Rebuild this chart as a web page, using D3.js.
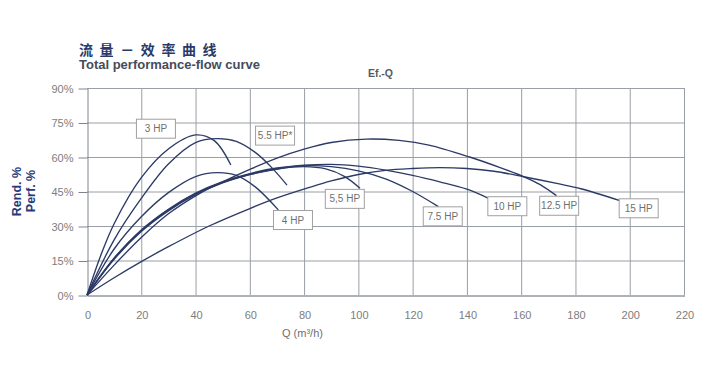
<!DOCTYPE html>
<html><head><meta charset="utf-8">
<script src="https://cdn.jsdelivr.net/npm/d3@7/dist/d3.min.js"></script>
<style>body{margin:0;background:#fff}</style>
</head><body><svg id="c" width="705" height="386"></svg>
<script>
// ---- data ----
const qTicks = [0,20,40,60,80,100,120,140,160,180,200,220];
const effTicks = [0,15,30,45,60,75,90];
const seriesNames = ["3 HP","5.5 HP*","4 HP","5,5 HP","7.5 HP","10 HP","12.5 HP","15 HP"];
const hp3   = [[0,0],[5,17],[10,31],[20,51],[30,63.5],[40,69.6],[47,67],[53,56.5]];
const hp55s = [[0,0],[10,24],[20,42],[30,57],[40,66.3],[48,68],[55,66.8],[62,62],[68,55.5],[73.7,47.8]];
const hp4   = [[0,0],[10,20],[20,34],[30,44.5],[40,51.5],[48,53.2],[55,52],[62,47],[70.5,37]];
const hp55  = [[0,0],[10,16],[20,28],[30,37],[40,44],[50,49],[60,52.5],[70,54.8],[80,55.8],[88,54.8],[95,51.5],[100.6,46.4]];
const hp75  = [[0,0],[10,16],[20,28.3],[30,37.3],[40,44.3],[50,49.3],[60,52.8],[70,55.2],[80,56.2],[90,55.8],[100,54],[110,50.5],[120,45],[129.5,38.4]];
const hp10  = [[0,0],[10,15.5],[20,27.6],[30,36.6],[40,43.6],[50,48.7],[60,52.3],[70,54.8],[80,56.4],[90,56.8],[100,56],[110,54.3],[120,52],[130,49.2],[140,46],[148,42]];
const hp125 = [[0,0],[10,13],[20,25],[30,35.3],[41.6,44.2],[50,49.2],[60,54.6],[70,59.5],[80,63.4],[90,66.3],[103,67.8],[115,67.2],[126,65.2],[141,60],[152,55.5],[161,51.4],[167,48],[173,43.2]];
const hp15  = [[0,0],[10,7.5],[20,14.5],[30,21],[45,30],[60,37.6],[70,42.2],[82,46.8],[90,49.6],[100,52.4],[110,54.2],[120,55],[130,55.4],[140,55],[150,53.8],[161,51.4],[167,50],[174,48.3],[182,46.2],[196.4,41]];
const seriesData = [hp3,hp55s,hp4,hp55,hp75,hp10,hp125,hp15];
// label box centres in data units (Q, efficiency %)
const labelQ = [25.4,69.3,75.9,95,131.1,154.9,174,203.3];
const labelE = [72.3,69.3,32.6,41.8,34.2,38.6,38.8,37.7];

// ---- drawing ----
const svg = d3.select("#c");
const x = d3.scaleLinear().domain([0,220]).range([87,684]);
const y = d3.scaleLinear().domain([0,90]).range([295,88]);
const gridC = "#9a9ea6", navy = "#2c3a66", tickC = "#7d7d7d";

// grid
svg.append("g").selectAll("line").data(qTicks.slice(1)).join("line")
  .attr("x1",d=>x(d)+0.5).attr("x2",d=>x(d)+0.5).attr("y1",y(0)).attr("y2",y(90))
  .attr("stroke",gridC).attr("stroke-width",1);
svg.append("g").selectAll("line").data(effTicks.slice(1)).join("line")
  .attr("x1",x(0)).attr("x2",x(220)).attr("y1",d=>y(d)+0.5).attr("y2",d=>y(d)+0.5)
  .attr("stroke",gridC).attr("stroke-width",1);

// axes
const yAxis = svg.append("g").attr("transform",`translate(${x(0)+0.5},0.5)`)
  .call(d3.axisLeft(y).tickValues(effTicks).tickFormat(d=>d+"%").tickSize(9).tickSizeOuter(0).tickPadding(5));
yAxis.selectAll("path,line").attr("stroke","#7f848c");
yAxis.selectAll("text").attr("fill",tickC).style("font","11px 'Liberation Sans', Arial, sans-serif");

const xAxis = svg.append("g").attr("transform",`translate(0.5,${y(0)+0.5})`)
  .call(d3.axisBottom(x).tickValues(qTicks).tickSize(0).tickSizeOuter(0).tickPadding(16));
xAxis.select("path").attr("stroke","#5f646c");
xAxis.selectAll("text").attr("fill",tickC).style("font","11px 'Liberation Sans', Arial, sans-serif");

// curves
const line = d3.line().x(d=>x(d[0])).y(d=>y(d[1])).curve(d3.curveCatmullRom.alpha(0.5));
svg.append("g").selectAll("path").data(seriesData).join("path")
  .attr("d",line).attr("fill","none").attr("stroke",navy).attr("stroke-width",1.35);

// label boxes
const lg = svg.append("g").selectAll("g").data(seriesNames).join("g")
  .attr("transform",(d,i)=>`translate(${x(labelQ[i])},${y(labelE[i])})`);
lg.append("rect").attr("x",-19.5).attr("y",-9.5).attr("width",39).attr("height",19)
  .attr("fill","#fff").attr("stroke","#a0a0a0").attr("stroke-width",1);
lg.append("text").attr("text-anchor","middle").attr("dy","0.35em").text(d=>d)
  .attr("fill","#6f6f6f").style("font","10px 'Liberation Sans', Arial, sans-serif");

// titles
svg.append("text").attr("x",79).attr("y",55).text("流量－效率曲线")
  .attr("fill","#2a3a66").style("font","bold 14px 'Noto Sans CJK SC', sans-serif").style("letter-spacing","6.6px");
svg.append("text").attr("x",79).attr("y",68.5).text("Total performance-flow curve")
  .attr("textLength",181).attr("lengthAdjust","spacingAndGlyphs")
  .attr("fill","#454c5a").style("font","bold 12px 'Liberation Sans', Arial, sans-serif");
svg.append("text").attr("x",380.5).attr("y",77).attr("text-anchor","middle").text("Ef.-Q")
  .attr("fill","#555a63").style("font","bold 10.5px 'Liberation Sans', Arial, sans-serif");

// axis titles
svg.append("text").attr("transform","translate(20.5,191.5) rotate(-90)").attr("text-anchor","middle")
  .text("Rend. %").attr("fill","#2a3a78").style("font","bold 12.5px 'Liberation Sans', Arial, sans-serif");
svg.append("text").attr("transform","translate(35,191) rotate(-90)").attr("text-anchor","middle")
  .text("Perf. %").attr("fill","#2a3a78").style("font","bold 12.5px 'Liberation Sans', Arial, sans-serif");
svg.append("text").attr("x",x(79.4)).attr("y",337).attr("text-anchor","middle").text("Q (m³/h)")
  .attr("fill","#6f6f6f").style("font","11px 'Liberation Sans', Arial, sans-serif");
</script>
</body></html>
